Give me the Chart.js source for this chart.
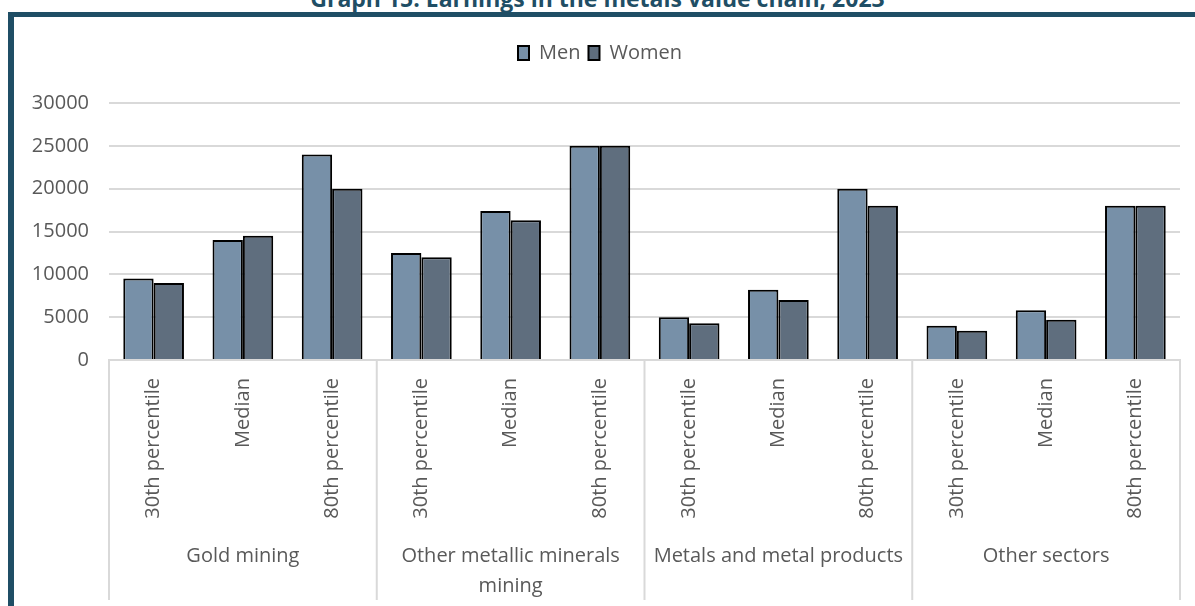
<!DOCTYPE html>
<html>
<head>
<meta charset="utf-8">
<script src="https://cdn.jsdelivr.net/npm/chart.js@4"></script>
<style>
    body { margin: 0; width: 1195px; height: 606px; overflow: hidden; background: #fff; font-family: "Open Sans", sans-serif; }
    .title { position: absolute; top: -18px; left: 0; width: 1195px; text-align: center; font-weight: bold; font-size: 23px; color: #1F4E65; }
    .frame { position: absolute; left: 8px; top: 12px; width: 1200px; height: 620px; border-left: 6px solid #1F4E65; border-top: 5px solid #1F4E65; }
    #chart { position: absolute; left: 0; top: 0; }
</style>
</head>
<body>
<div class="title">Graph 15: Earnings in the metals value chain, 2023</div>
<div class="frame"></div>
<canvas id="chart" width="1195" height="606"></canvas>
<script>
const groups = ['Gold mining', ['Other metallic minerals', 'mining'], 'Metals and metal products', 'Other sectors'];
const measures = ['30th percentile', 'Median', '80th percentile'];
const menValues = [9500, 14000, 24000, 12500, 17400, 25000, 5000, 8200, 20000, 4000, 5800, 18000];
const womenValues = [9000, 14500, 20000, 12000, 16300, 25000, 4300, 7000, 18000, 3400, 4700, 18000];
const yTicks = [0, 5000, 10000, 15000, 20000, 25000, 30000];

const labels = [];
groups.forEach(() => measures.forEach(m => labels.push(m)));

const fontSize = 20;

// draws the group names and the separators under the axis
const groupLabels = {
    id: 'groupLabels',
    afterDraw(chart) {
        const ctx = chart.ctx;
        const x = chart.scales.x;
        const area = chart.chartArea;
        const n = measures.length;
        ctx.save();
        ctx.strokeStyle = '#d9d9d9';
        ctx.lineWidth = 2;
        for (let g = 0; g <= groups.length; g++) {
            let px;
            if (g === 0) px = area.left;
            else if (g === groups.length) px = area.right;
            else px = (x.getPixelForValue(g * n - 1) + x.getPixelForValue(g * n)) / 2;
            ctx.beginPath();
            ctx.moveTo(px, area.bottom);
            ctx.lineTo(px, 600);
            ctx.stroke();
        }
        ctx.fillStyle = '#595959';
        ctx.font = fontSize + 'px "Open Sans"';
        ctx.textAlign = 'center';
        ctx.textBaseline = 'middle';
        groups.forEach((name, g) => {
            const cx = (x.getPixelForValue(g * n) + x.getPixelForValue(g * n + n - 1)) / 2;
            const lines = Array.isArray(name) ? name : [name];
            lines.forEach((line, i) => ctx.fillText(line, cx, 556 + i * 30));
        });
        ctx.restore();
    }
};

// extra room under the legend
const legendGap = {
    id: 'legendGap',
    beforeInit(chart) {
        const fit = chart.legend.fit;
        chart.legend.fit = function () {
            fit.bind(chart.legend)();
            this.height += 30;
        };
    }
};

new Chart(document.getElementById('chart'), {
    type: 'bar',
    data: {
        labels: labels,
        datasets: [
            { label: 'Men', data: menValues, backgroundColor: '#7790A8', borderColor: '#000', borderWidth: 2 },
            { label: 'Women', data: womenValues, backgroundColor: '#5F6E7E', borderColor: '#000', borderWidth: 2 }
        ]
    },
    options: {
        responsive: false,
        animation: false,
        layout: { padding: { top: 35, right: 15, left: 20, bottom: 0 } },
        datasets: { bar: { categoryPercentage: 0.68, barPercentage: 1 } },
        plugins: {
            legend: {
                position: 'top',
                labels: {
                    boxWidth: 11, boxHeight: 14, color: '#595959', padding: 8,
                    font: { family: 'Open Sans', size: fontSize }
                }
            },
            tooltip: { enabled: false }
        },
        scales: {
            x: {
                grid: { display: false },
                border: { display: true, color: '#d9d9d9', width: 2 },
                ticks: {
                    color: '#595959', minRotation: 90, maxRotation: 90, padding: 10,
                    font: { family: 'Open Sans', size: fontSize }
                },
                afterFit(scale) { scale.height = 246; }
            },
            y: {
                min: 0, max: 30000,
                afterBuildTicks(scale) { scale.ticks = yTicks.map(v => ({ value: v })); },
                grid: { color: '#d9d9d9', lineWidth: 2, drawTicks: false },
                border: { display: false },
                ticks: {
                    color: '#595959', padding: 20,
                    font: { family: 'Open Sans', size: fontSize },
                    callback: v => String(v)
                },
                afterFit(scale) { scale.width = 89; }
            }
        }
    },
    plugins: [groupLabels, legendGap]
});
</script>
</body>
</html>
